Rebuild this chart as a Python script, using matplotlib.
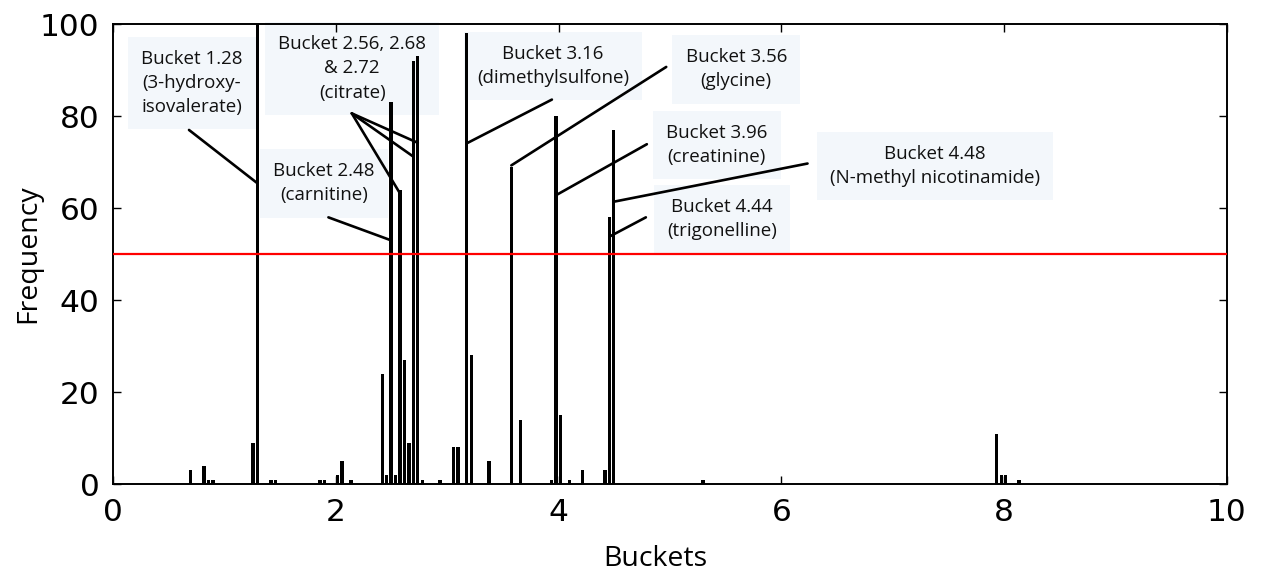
import matplotlib
matplotlib.use('Agg')
import matplotlib.pyplot as plt

# ---- data ----
buckets = [0.68, 0.80, 0.84, 0.88, 1.24, 1.28, 1.40, 1.44, 1.84, 1.88, 2.00, 2.04,
           2.12, 2.40, 2.44, 2.48, 2.52, 2.56, 2.60, 2.64, 2.68, 2.72, 2.76, 2.92,
           3.04, 3.08, 3.16, 3.20, 3.36, 3.56, 3.64, 3.92, 3.96, 4.00, 4.08, 4.20,
           4.40, 4.44, 4.48, 5.28, 7.92, 7.96, 8.00, 8.12]
frequency = [3, 4, 1, 1, 9, 100, 1, 1, 1, 1, 2, 5,
             1, 24, 2, 83, 2, 64, 27, 9, 92, 93, 1, 1,
             8, 8, 98, 28, 5, 69, 14, 1, 80, 15, 1, 3,
             3, 58, 77, 1, 11, 2, 2, 1]
threshold = 50
x_ticks = [0, 2, 4, 6, 8, 10]
y_ticks = [0, 20, 40, 60, 80, 100]

# annotation texts, text centre, leader start, leader end
ann_labels = ["Bucket 1.28\n(3-hydroxy-\nisovalerate)",
              "Bucket 2.56, 2.68\n& 2.72\n(citrate)",
              "Bucket 2.48\n(carnitine)",
              "Bucket 3.16\n(dimethylsulfone)",
              "Bucket 3.56\n(glycine)",
              "Bucket 3.96\n(creatinine)",
              "Bucket 4.48\n(N-methyl nicotinamide)",
              "Bucket 4.44\n(trigonelline)"]
ann_text_xy = [(0.704, 87.2), (2.145, 90.4), (1.893, 65.4), (3.95, 90.9),
               (5.595, 90.2), (5.421, 73.7), (7.382, 69.2), (5.469, 57.6)]
ann_lines = [
    [((0.68, 77.0), (1.28, 65.4))],
    [((2.142, 80.6), (2.72, 74.2)), ((2.142, 80.6), (2.68, 71.2)), ((2.142, 80.6), (2.56, 63.2))],
    [((1.932, 58.0), (2.48, 53.0))],
    [((3.939, 83.6), (3.16, 74.1))],
    [((4.966, 90.7), (3.56, 69.3))],
    [((4.792, 73.9), (3.96, 62.8))],
    [((6.235, 69.7), (4.48, 61.4))],
    [((4.783, 58.0), (4.44, 53.8))],
]

# ---- figure ----
fig = plt.figure(figsize=(12.63, 5.75), dpi=100)
ax = fig.add_axes([0.0897, 0.158, 0.8816, 0.800])

bar_w = 0.03
ax.bar(buckets, frequency, width=bar_w, align='edge', color='black',
       edgecolor='black', linewidth=0, zorder=2)
ax.axhline(threshold, color='#ff0000', linewidth=1.6, zorder=3)

ann_font = dict(family=['Open Sans', 'DejaVu Sans'], size=13.5)
for label, (tx, ty) in zip(ann_labels, ann_text_xy):
    ax.text(tx, ty, label, ha='center', va='center', linespacing=1.45,
            color='#111111', zorder=1, fontdict=ann_font,
            bbox=dict(boxstyle='square,pad=0.7', facecolor='#f3f7fb',
                      edgecolor='none'))
for segs in ann_lines:
    for (x0, y0), (x1, y1) in segs:
        ax.annotate('', xy=(x1 + bar_w / 2, y1), xytext=(x0, y0),
                    arrowprops=dict(arrowstyle='-', color='black', lw=1.9,
                                    shrinkA=0, shrinkB=0),
                    zorder=4)

ax.set_xlim(0, 10)
ax.set_ylim(0, 100)
ax.set_xticks(x_ticks)
ax.set_yticks(y_ticks)
ax.tick_params(direction='in', length=6, width=1, top=True, right=True,
               labelsize=22.5, pad=10)
for lab in ax.get_xticklabels() + ax.get_yticklabels():
    lab.set_family('DejaVu Sans')
for s in ax.spines.values():
    s.set_linewidth(1.4)

ax.set_xlabel('Buckets', fontsize=20.5, family=['Open Sans', 'DejaVu Sans'])
ax.set_ylabel('Frequency', fontsize=20.5, family=['Open Sans', 'DejaVu Sans'])
ax.xaxis.label.set_verticalalignment('baseline')
ax.yaxis.label.set_verticalalignment('center')
ax.xaxis.set_label_coords(0.487, -0.178)
ax.yaxis.set_label_coords(-0.0766, 0.5)

fig.savefig('out.png', dpi=100)
